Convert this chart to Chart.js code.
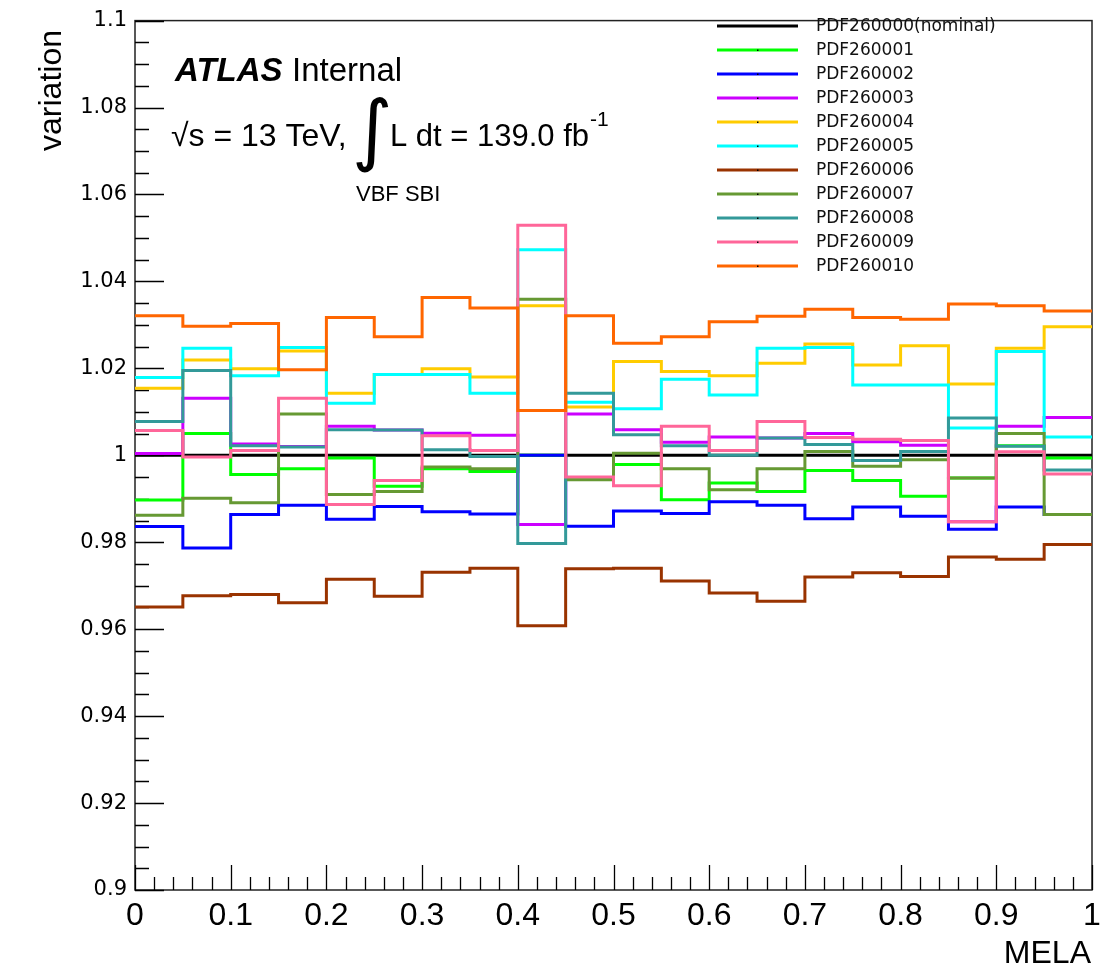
<!DOCTYPE html>
<html>
<head>
<meta charset="utf-8">
<script src="https://cdn.jsdelivr.net/npm/chart.js@4.4.1/dist/chart.umd.min.js"></script>
<style>
  html, body { margin: 0; padding: 0; background: #ffffff; }
  #wrap { width: 1116px; height: 967px; }
</style>
</head>
<body>
<div id="wrap"><canvas id="c" width="1116" height="967"></canvas></div>
<script>
// ---- data (bin low edges + upper edge of last bin) ----
const binEdges = [0, 0.05, 0.10, 0.15, 0.20, 0.25, 0.30, 0.35, 0.40, 0.45, 0.50, 0.55, 0.60, 0.65, 0.70, 0.75, 0.80, 0.85, 0.90, 0.95, 1.00];

const seriesLabels = ['PDF260000(nominal)', 'PDF260001', 'PDF260002', 'PDF260003', 'PDF260004', 'PDF260005', 'PDF260006', 'PDF260007', 'PDF260008', 'PDF260009', 'PDF260010'];
const seriesColors = ['#000000', '#00ff00', '#0000ff', '#cc00ff', '#ffcc00', '#00ffff', '#993300', '#669933', '#339999', '#ff6699', '#ff6600'];

const pdf260000 = [1.0000, 1.0000, 1.0000, 1.0000, 1.0000, 1.0000, 1.0000, 1.0000, 1.0000, 1.0000, 1.0000, 1.0000, 1.0000, 1.0000, 1.0000, 1.0000, 1.0000, 1.0000, 1.0000, 1.0000];
const pdf260001 = [0.9897, 1.0050, 0.9956, 0.9969, 0.9994, 0.9929, 0.9969, 0.9963, 1.0000, 0.9947, 0.9979, 0.9898, 0.9936, 0.9917, 0.9965, 0.9942, 0.9906, 0.9948, 1.0022, 0.9994];
const pdf260002 = [0.9836, 0.9787, 0.9864, 0.9885, 0.9853, 0.9882, 0.9870, 0.9865, 1.0000, 0.9837, 0.9872, 0.9866, 0.9893, 0.9885, 0.9854, 0.9881, 0.9860, 0.9830, 0.9881, 0.9864];
const pdf260003 = [1.0004, 1.0131, 1.0026, 1.0020, 1.0067, 1.0058, 1.0051, 1.0046, 0.9841, 1.0095, 1.0059, 1.0030, 1.0042, 1.0040, 1.0050, 1.0031, 1.0023, 0.9847, 1.0067, 1.0087];
const pdf260004 = [1.0154, 1.0219, 1.0199, 1.0240, 1.0143, 1.0186, 1.0199, 1.0180, 1.0344, 1.0111, 1.0216, 1.0193, 1.0183, 1.0212, 1.0256, 1.0208, 1.0252, 1.0164, 1.0246, 1.0296];
const pdf260005 = [1.0179, 1.0246, 1.0183, 1.0248, 1.0120, 1.0186, 1.0186, 1.0143, 1.0473, 1.0122, 1.0107, 1.0175, 1.0139, 1.0246, 1.0248, 1.0162, 1.0162, 1.0063, 1.0239, 1.0042];
const pdf260006 = [0.9651, 0.9677, 0.9680, 0.9661, 0.9715, 0.9676, 0.9731, 0.9740, 0.9608, 0.9739, 0.9740, 0.9711, 0.9683, 0.9664, 0.9720, 0.9730, 0.9721, 0.9766, 0.9761, 0.9795];
const pdf260007 = [0.9862, 0.9901, 0.9891, 1.0095, 0.9910, 0.9917, 0.9973, 0.9969, 1.0359, 0.9944, 1.0005, 0.9969, 0.9921, 0.9969, 1.0009, 0.9975, 0.9990, 0.9948, 1.0050, 0.9864];
const pdf260008 = [1.0078, 1.0195, 1.0022, 1.0019, 1.0059, 1.0058, 1.0013, 0.9997, 0.9797, 1.0143, 1.0047, 1.0022, 1.0000, 1.0040, 1.0025, 0.9988, 1.0009, 1.0086, 1.0021, 0.9966];
const pdf260009 = [1.0057, 0.9996, 1.0011, 1.0131, 0.9887, 0.9942, 1.0045, 1.0011, 1.0529, 0.9950, 0.9930, 1.0067, 1.0011, 1.0078, 1.0041, 1.0037, 1.0034, 0.9847, 1.0008, 0.9957];
const pdf260010 = [1.0321, 1.0297, 1.0303, 1.0197, 1.0317, 1.0273, 1.0363, 1.0339, 1.0103, 1.0321, 1.0258, 1.0273, 1.0307, 1.0320, 1.0336, 1.0317, 1.0313, 1.0348, 1.0344, 1.0332];

const seriesValues = [pdf260000, pdf260001, pdf260002, pdf260003, pdf260004, pdf260005, pdf260006, pdf260007, pdf260008, pdf260009, pdf260010];

const xTitle = 'MELA';
const yTitle = 'variation';
const xMin = 0, xMax = 1, yMin = 0.9, yMax = 1.1;

// ---- fonts ----
const wide = '"DejaVu Sans", "Liberation Sans", sans-serif';
const helv = '"Liberation Sans", Arial, sans-serif';

function histPoints(vals) {
  return binEdges.map((x, i) => ({ x: x, y: vals[Math.min(i, vals.length - 1)] }));
}

const N = seriesValues.length;
const datasets = seriesValues.map((vals, i) => ({
  label: seriesLabels[i],
  data: histPoints(vals),
  borderColor: seriesColors[i],
  backgroundColor: seriesColors[i],
  borderWidth: 3,
  pointRadius: 0,
  fill: false,
  stepped: true,
  tension: 0,
  order: N - 1 - i  // later histograms on top, as in ROOT
}));

const rootDecor = {
  id: 'rootDecor',
  beforeDatasetsDraw(chart) {
    const ctx = chart.ctx;
    const a = chart.chartArea;
    const xs = chart.scales.x, ys = chart.scales.y;
    ctx.save();
    // frame
    ctx.strokeStyle = '#222';
    ctx.lineWidth = 1.5;
    ctx.strokeRect(a.left, a.top, a.right - a.left, a.bottom - a.top);
    // y ticks (inward)
    ctx.strokeStyle = '#000';
    ctx.lineWidth = 1.3;
    ctx.beginPath();
    for (let k = 0; k <= 40; k++) {
      const v = yMin + k * 0.005;
      const py = Math.round(ys.getPixelForValue(v)) + 0.5;
      const len = (k % 4 === 0) ? 29 : 14;
      ctx.moveTo(a.left, py);
      ctx.lineTo(a.left + len, py);
    }
    // x ticks (inward)
    for (let k = 0; k <= 50; k++) {
      const v = xMin + k * 0.02;
      const px = Math.round(xs.getPixelForValue(v)) + 0.5;
      const len = (k % 5 === 0) ? 25 : 13;
      ctx.moveTo(px, a.bottom);
      ctx.lineTo(px, a.bottom - len);
    }
    ctx.stroke();
    ctx.restore();
  },
  afterDraw(chart) {
    const ctx = chart.ctx;
    const a = chart.chartArea;
    ctx.save();
    // axis titles (ROOT style: right / top aligned)
    ctx.fillStyle = '#000';
    ctx.font = '32px ' + helv;
    ctx.textBaseline = 'alphabetic';
    ctx.textAlign = 'right';
    ctx.fillText(xTitle, a.right - 1, 963);
    ctx.save();
    ctx.translate(61, 30);
    ctx.rotate(-Math.PI / 2);
    ctx.textAlign = 'right';
    ctx.fillText(yTitle, 0, 0);
    ctx.restore();

    // legend
    ctx.textBaseline = 'middle';
    ctx.textAlign = 'left';
    ctx.font = '17px ' + wide;
    for (let i = 0; i < seriesLabels.length; i++) {
      const y = 26 + i * 24;
      ctx.strokeStyle = seriesColors[i];
      ctx.lineWidth = 3;
      ctx.beginPath();
      ctx.moveTo(717, y);
      ctx.lineTo(798, y);
      ctx.stroke();
      if (i > 0) {
        ctx.fillStyle = '#000';
        ctx.fillRect(757, y - 0.5, 1.5, 1.5);
      }
      ctx.fillStyle = '#111';
      ctx.fillText(seriesLabels[i], 816, y + 1);
    }
    // ATLAS label
    ctx.textBaseline = 'alphabetic';
    ctx.fillStyle = '#000';
    ctx.font = 'italic bold 33px ' + helv;
    ctx.fillText('ATLAS', 175, 81);
    ctx.font = '33px ' + helv;
    ctx.fillText('Internal', 292, 81);
    // lumi label
    ctx.font = '32px ' + helv;
    ctx.fillText('\u221As = 13 TeV,', 171, 146);
    ctx.font = '78px ' + wide;
    ctx.fillText('\u222B', 352, 156);
    ctx.font = '31px ' + helv;
    ctx.fillText('L dt = 139.0 fb', 390, 146);
    ctx.font = '21px ' + helv;
    ctx.fillText('-1', 590, 126);
    // channel
    ctx.font = '22px ' + helv;
    ctx.fillText('VBF SBI', 356, 201);
    ctx.restore();
  }
};

const fmt = v => String(Number(v.toFixed(3)));

new Chart(document.getElementById('c').getContext('2d'), {
  type: 'line',
  data: { datasets: datasets },
  options: {
    responsive: false,
    animation: false,
    devicePixelRatio: 1,
    layout: { padding: { left: 0, right: 24, top: 17, bottom: 0 } },
    plugins: { legend: { display: false }, tooltip: { enabled: false } },
    scales: {
      x: {
        type: 'linear', min: xMin, max: xMax,
        grid: { display: false, drawTicks: false },
        border: { display: false },
        ticks: { stepSize: 0.1, padding: 7, color: '#000', maxRotation: 0, autoSkip: false,
                 font: { family: helv, size: 32 }, callback: fmt },
        title: { display: false },
        afterFit: s => { s.height = 77; }
      },
      y: {
        type: 'linear', min: yMin, max: yMax,
        grid: { display: false, drawTicks: false },
        border: { display: false },
        ticks: { stepSize: 0.02, padding: 8, color: '#000', autoSkip: false,
                 font: { family: wide, size: 21 }, callback: fmt },
        title: { display: false },
        afterFit: s => { s.width = 135; }
      }
    }
  },
  plugins: [rootDecor]
});
</script>
</body>
</html>
